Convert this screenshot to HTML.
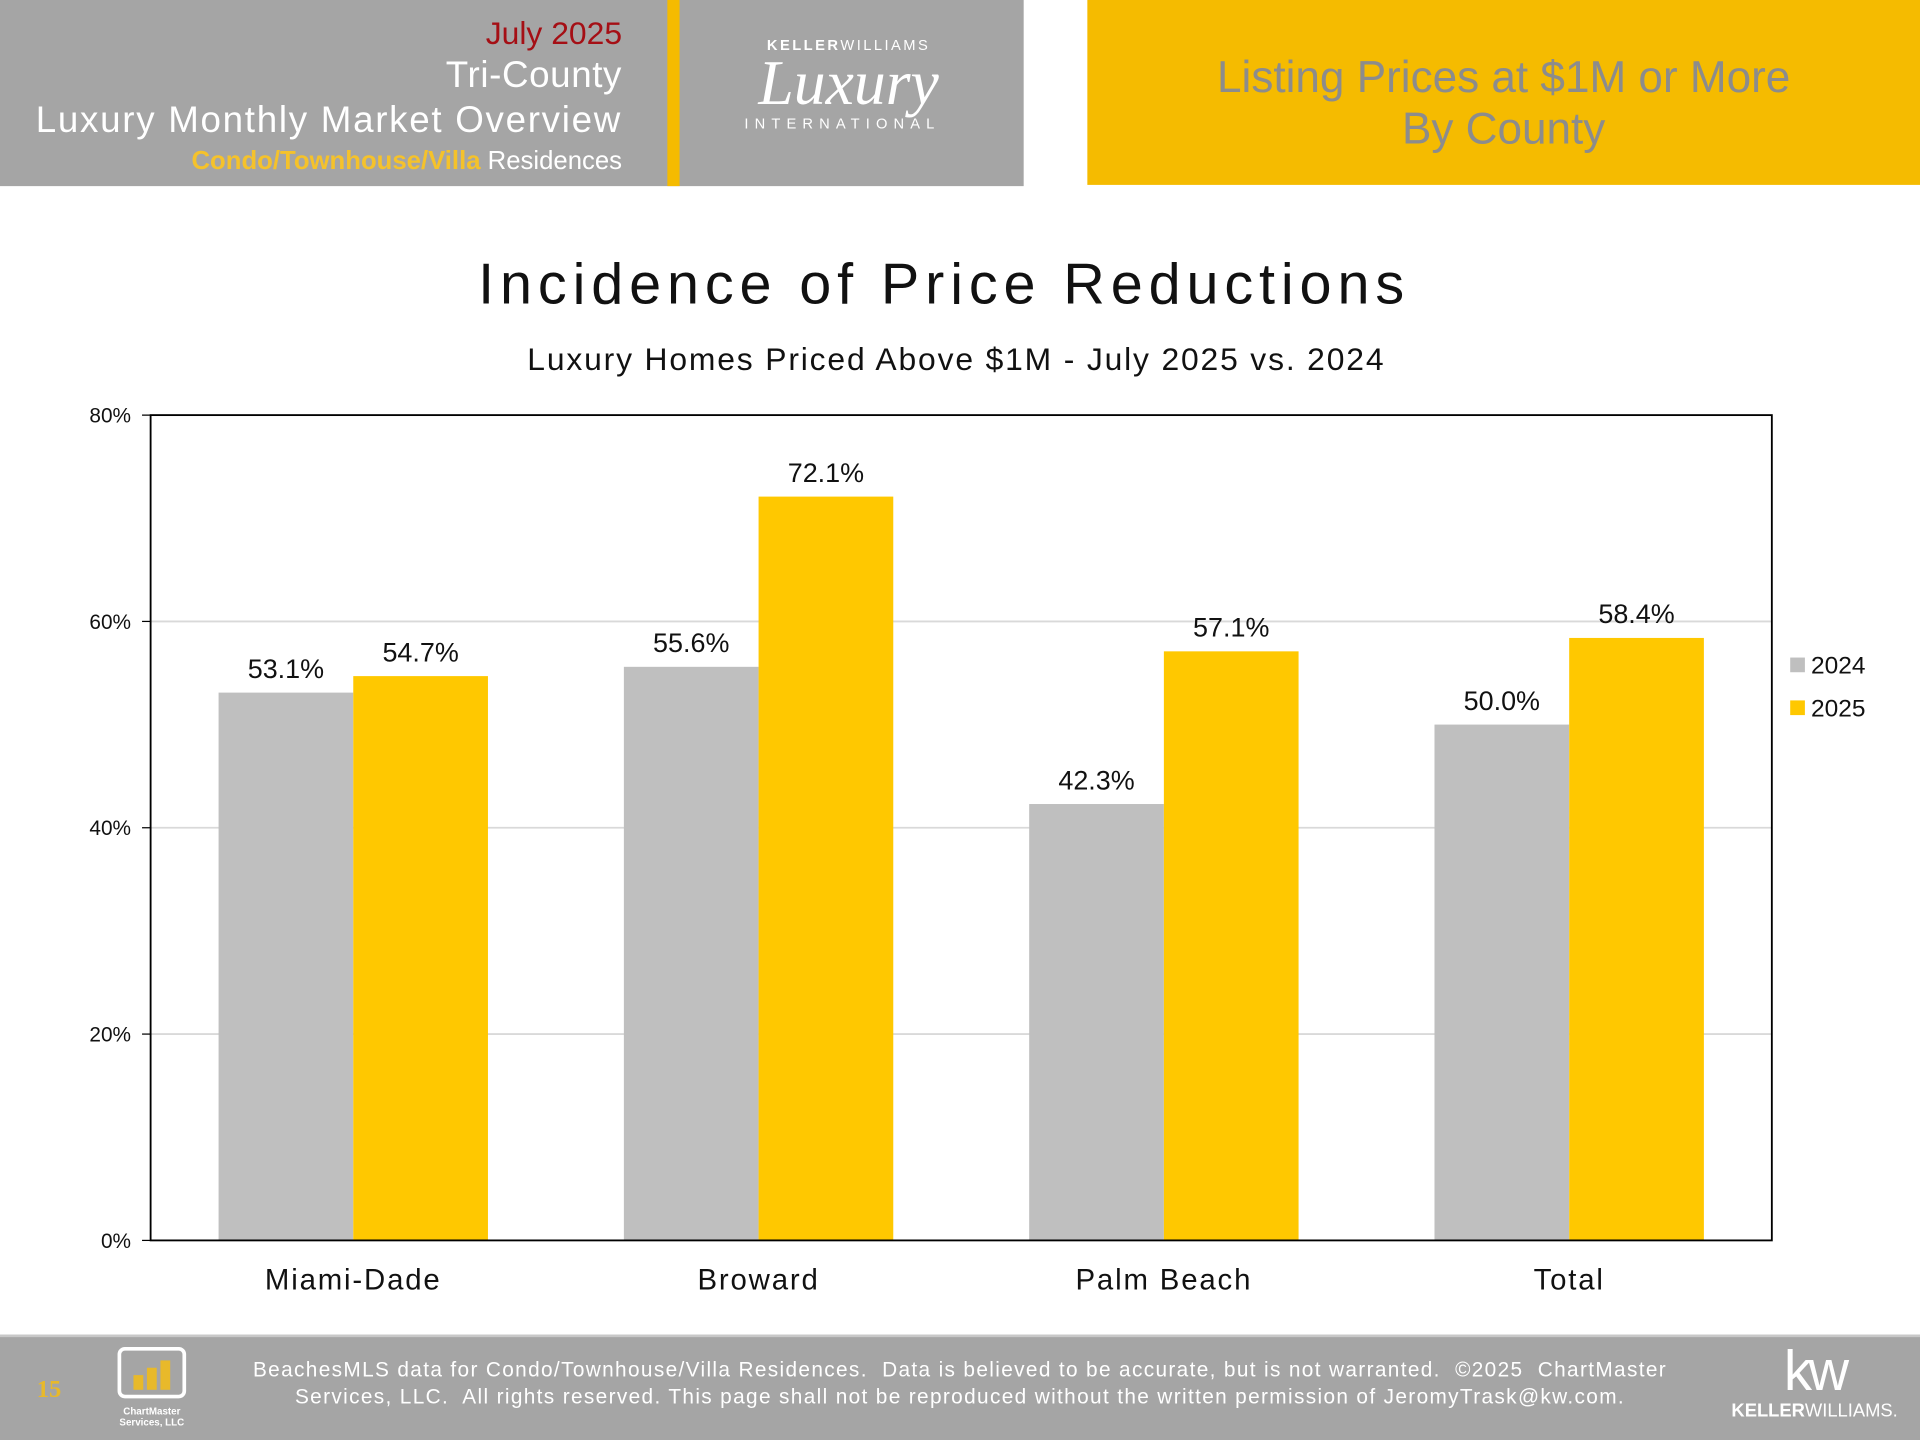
<!DOCTYPE html>
<html><head><meta charset="utf-8">
<style>
html,body{margin:0;padding:0;width:1920px;height:1440px;overflow:hidden;background:#fff;font-family:"Liberation Sans",sans-serif;}
#wrap{position:absolute;left:0;top:0;width:1568px;height:1176px;transform:scale(1.22449);transform-origin:0 0;}
.abs{position:absolute;}
</style></head><body>
<div id="wrap">
  <div class="abs" style="left:0;top:0;width:836px;height:152px;background:#a5a5a5;"></div>
  <div class="abs" style="left:545px;top:0;width:10px;height:152px;background:#f5bb00;"></div>
  <div class="abs" style="right:1060px;top:10px;text-align:right;color:#fff;white-space:nowrap;">
    <div style="color:#a50f15;font-size:26px;line-height:34px;">July 2025</div>
    <div style="font-size:30px;line-height:36px;letter-spacing:0.5px;">Tri-County</div>
    <div style="font-size:30px;line-height:38px;letter-spacing:1.4px;">Luxury Monthly Market Overview</div>
    <div style="font-size:21px;line-height:28px;"><span style="color:#f5c22b;font-weight:bold;">Condo/Townhouse/Villa</span> Residences</div>
  </div>
  <div class="abs" style="left:560px;top:30px;width:276px;height:90px;color:#fff;text-align:center;">
    <div style="font-size:12px;letter-spacing:2px;margin-left:-10px;"><b>KELLER</b>WILLIAMS</div>
    <div style="font-family:'Liberation Serif',serif;font-style:italic;font-size:52px;line-height:50px;margin-left:-10px;">Luxury</div>
    <div style="font-size:12px;letter-spacing:5px;margin-left:-20px;">INTERNATIONAL</div>
  </div>
  <div class="abs" style="left:888px;top:0;width:680px;height:151px;background:#f5bb00;color:#8c8c8c;text-align:center;font-size:36px;line-height:42px;">
    <div style="padding-top:42px;">Listing Prices at $1M or More<br>By County</div>
  </div>

  <div class="abs" style="left:0;width:1542px;top:204px;text-align:center;font-size:47px;color:#111;letter-spacing:4.8px;">Incidence of Price Reductions</div>
  <div class="abs" style="left:0;width:1562px;top:278px;text-align:center;font-size:26px;color:#111;letter-spacing:1.5px;">Luxury Homes Priced Above $1M - July 2025 vs. 2024</div>

  <svg class="abs" id="chart" style="left:0;top:320px;" width="1568" height="760" viewBox="0 320 1568 760"></svg>

  <div class="abs" style="left:0;top:1090px;width:1568px;height:86px;background:#a5a5a5;border-top:2px solid #c8c8c8;box-sizing:border-box;"></div>
  <div class="abs" style="left:30px;top:1124px;color:#e8b92a;font-family:'Liberation Serif',serif;font-size:20px;font-weight:bold;">15</div>
  <div class="abs" style="left:96px;top:1100px;width:56px;height:42px;border:3px solid #fff;border-radius:6px;box-sizing:border-box;">
    <div style="position:absolute;left:10px;bottom:4px;width:8px;height:12px;background:#e8b92a;"></div>
    <div style="position:absolute;left:21px;bottom:4px;width:8px;height:18px;background:#e8b92a;"></div>
    <div style="position:absolute;left:32px;bottom:4px;width:8px;height:24px;background:#e8b92a;"></div>
  </div>
  <div class="abs" style="left:92px;top:1148px;width:64px;text-align:center;color:#fff;font-size:8px;line-height:9px;font-weight:bold;">ChartMaster<br>Services, LLC</div>
  <div class="abs" style="left:134px;width:1300px;top:1108px;text-align:center;color:#fff;font-size:17px;line-height:22px;letter-spacing:1.1px;">BeachesMLS data for Condo/Townhouse/Villa Residences.&nbsp; Data is believed to be accurate, but is not warranted.&nbsp; ©2025&nbsp; ChartMaster<br>Services, LLC.&nbsp; All rights reserved. This page shall not be reproduced without the written permission of JeromyTrask@kw.com.</div>
  <div class="abs" style="left:1414px;top:1094px;color:#fff;text-align:center;">
    <div style="font-size:46px;line-height:50px;letter-spacing:-3px;">kw</div>
    <div style="font-size:15px;"><b>KELLER</b>WILLIAMS.</div>
  </div>
</div>
<script>
const categories=["Miami-Dade","Broward","Palm Beach","Total"];
const series2024=[53.1,55.6,42.3,50.0];
const series2025=[54.7,72.1,57.1,58.4];
const seriesNames=["2024","2025"];
const yTicks=[0,20,40,60,80];
const svg=document.getElementById('chart');
const NS="http://www.w3.org/2000/svg";
const L=123,R=1447,T=339,B=1013,yMax=80;
const y=v=>B-(v/yMax)*(B-T);
const gw=(R-L)/categories.length;
const x=i=>L+gw*(i+0.5);
const bw=110;
const colors=["#bfbfbf","#ffc800"];
function mk(t,a){const e=document.createElementNS(NS,t);for(const k in a)e.setAttribute(k,a[k]);svg.appendChild(e);return e;}
yTicks.forEach(t=>{
  if(t>0&&t<yMax){const g=mk('line',{x1:L,x2:R,y1:y(t),y2:y(t),stroke:'#d9d9d9','stroke-width':1.5});
  
  }
  const tk=mk('line',{x1:L-7,x2:L,y1:y(t),y2:y(t),stroke:'#000','stroke-width':1});
  
  
  const lb=mk('text',{x:L-16,y:y(t)+6,'text-anchor':'end','font-size':17,fill:'#111','font-family':'Liberation Sans, sans-serif'});
  lb.textContent=t+'%';
  
  
});
[series2024,series2025].forEach((s,si)=>{
  s.forEach((v,i)=>{
    const bx=x(i)-bw+si*bw;
    const r=mk('rect',{x:bx,y:y(v),width:bw,height:B-y(v),fill:colors[si]});
    
    
    const t=mk('text',{x:bx+bw/2,y:y(v)-12,'text-anchor':'middle','font-size':22,fill:'#111','font-family':'Liberation Sans, sans-serif'});
    t.textContent=v.toFixed(1)+'%';
    
    
  });
});
categories.forEach((c,i)=>{
  const t=mk('text',{x:x(i),y:1053,'text-anchor':'middle','font-size':24,fill:'#111','font-family':'Liberation Sans, sans-serif','letter-spacing':1.5});
  t.textContent=c;
  
  
});
const fr=mk('rect',{x:L,y:T,width:R-L,height:B-T,fill:'none',stroke:'#000','stroke-width':1.5});


seriesNames.forEach((n,si)=>{
  const yy=543+si*35;
  const sq=mk('rect',{x:1462,y:yy-6,width:12,height:12,fill:colors[si]});
  
  
  const t=mk('text',{x:1479,y:yy+7,'font-size':20,fill:'#111','font-family':'Liberation Sans, sans-serif'});
  t.textContent=n;
  
  
});
</script>
</body></html>
